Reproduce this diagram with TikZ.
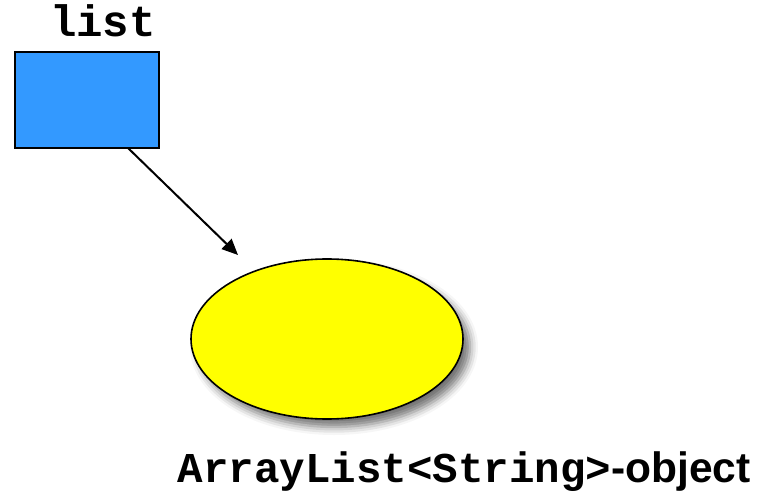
\documentclass[tikz,border=0pt]{standalone}
\usepackage{fontspec}
\setmainfont{Liberation Sans}
\newfontfamily\monob{Liberation Mono}[BoldFont={* Bold}]
\usetikzlibrary{shapes.geometric,arrows.meta,shadows.blur}
\definecolor{boxblue}{HTML}{3399FF}
\definecolor{objyellow}{HTML}{FFFF00}
\begin{document}
\begin{tikzpicture}[x=1pt,y=-1pt,
  refbox/.style={draw=black,line width=2pt,fill=boxblue,inner sep=0pt,minimum width=144pt,minimum height=96pt},
  objell/.style={ellipse,draw=black,line width=1.6pt,fill=objyellow,inner sep=0pt,minimum width=272pt,minimum height=160pt,
    blur shadow={shadow xshift=7pt,shadow yshift=-8pt,shadow blur radius=8pt,shadow opacity=55}},
  conn/.style={line width=2pt,-{Triangle[length=16pt,width=14pt]}},
  lbl/.style={inner sep=0pt,anchor=base}]
\useasboundingbox (0,0) rectangle (758,492);
\node[refbox] (box) at (87,100) {};
\node[lbl] (name) at (103,37) {\fontsize{44}{44}\selectfont\monob\bfseries list};
\node[objell] (obj) at (327,339) {};
\node[lbl] (cap) at (464,482) {\fontsize{42.5}{42.5}\selectfont{\monob\bfseries ArrayList<String>}\bfseries-object};
\coordinate (start) at (128,148);
\coordinate (tip) at (238,255);
\draw[conn] (start) -- (tip);
\end{tikzpicture}
\end{document}
